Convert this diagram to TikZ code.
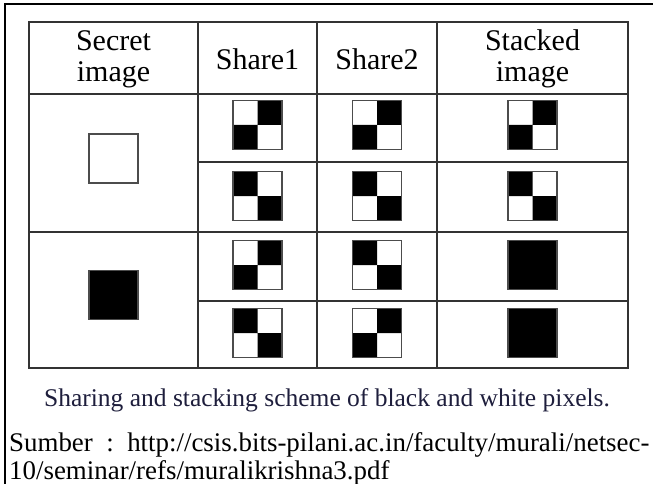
\documentclass[tikz,border=0pt]{standalone}
\usepackage{fontspec}
\setmainfont{Liberation Serif}
\usetikzlibrary{positioning}

\definecolor{capnavy}{RGB}{30,30,60}

\begin{document}
\begin{tikzpicture}[
    x=1pt, y=-1pt,
    rule/.style={line width=1.5pt, draw=black!80},
    head/.style={align=center, font=\fontsize{30}{31}\selectfont, inner sep=0pt},
    source/.style={anchor=base west, inner sep=0pt, font=\fontsize{26.9}{28}\selectfont},
    edge/.style={line width=1.2pt, draw=black!70},
    pixA/.pic={
        \fill[black] (0,-24.5) rectangle (24.5,0) (-24.5,0) rectangle (0,24.5);
        \draw[edge] (-24.5,-24.5) rectangle (24.5,24.5);
    },
    pixB/.pic={
        \fill[black] (-24.5,-24.5) rectangle (0,0) (0,0) rectangle (24.5,24.5);
        \draw[edge] (-24.5,-24.5) rectangle (24.5,24.5);
    },
    pixfull/.pic={
        \fill[black] (-24.5,-24.5) rectangle (24.5,24.5);
        \draw[edge] (-24.5,-24.5) rectangle (24.5,24.5);
    },
    pixwhite/.pic={
        \draw[edge] (-24.5,-24.5) rectangle (24.5,24.5);
    }
]
    \useasboundingbox (0,0) rectangle (653,484);
    \draw[line width=1.8pt] (5,484) -- (5,4) -- (653,4);

    \draw[rule] (29,22) rectangle (628,368);
    \foreach \x in {198,317,437} \draw[rule] (\x,22) -- (\x,368);
    \draw[rule] (29,94) -- (628,94);
    \draw[rule] (29,232) -- (628,232);
    \draw[rule] (198,162) -- (628,162);
    \draw[rule] (198,301) -- (628,301);

    \node[head] (secret) at (113.5,59) {Secret\\image};
    \node[head] (share1) at (257.5,59) {Share1};
    \node[head] (share2) at (377,59) {Share2};
    \node[head] (stacked) at (532.5,59) {Stacked\\image};

    \pic at (113.5,158.5) {pixwhite};
    \pic at (113.5,295) {pixfull};

    \pic at (257.5,125) {pixA};
    \pic at (377,125) {pixA};
    \pic at (532.5,125) {pixA};
    \pic at (257.5,196) {pixB};
    \pic at (377,196) {pixB};
    \pic at (532.5,196) {pixB};
    \pic at (257.5,265) {pixA};
    \pic at (377,265) {pixB};
    \pic at (532.5,265) {pixfull};
    \pic at (257.5,333) {pixB};
    \pic at (377,333) {pixA};
    \pic at (532.5,333) {pixfull};

    \node[anchor=base, inner sep=0pt, text=capnavy, font=\fontsize{25.5}{27}\selectfont] (caption) at (327,406)
        {Sharing and stacking scheme of black and white pixels.};
    \node[source] (source1) at (9,451)
        {Sumber~~:~~http://csis.bits-pilani.ac.in/faculty/murali/netsec-};
    \node[source] (source2) at (9,479)
        {10/seminar/refs/muralikrishna3.pdf};
\end{tikzpicture}
\end{document}
